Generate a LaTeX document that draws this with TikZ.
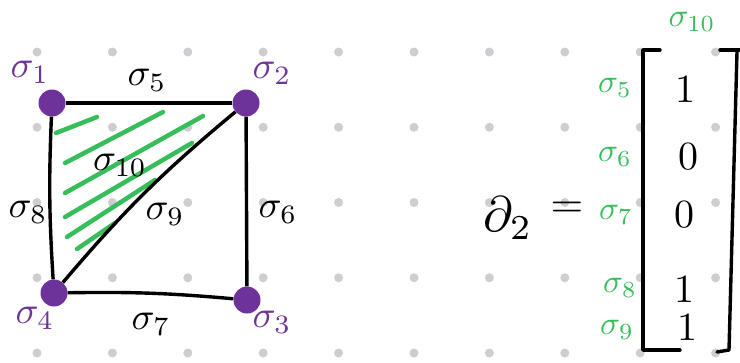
\documentclass[tikz,border=0pt]{standalone}
\usepackage{amsmath}
\usepackage{amssymb}
\usepackage{tikz}
\definecolor{vpurple}{RGB}{110,50,155}
\definecolor{hgreen}{RGB}{55,190,90}
\definecolor{dotgrey}{RGB}{205,205,210}
\newcommand{\sig}[1]{\sigma_{#1}}

\begin{document}
\begin{tikzpicture}[x=1pt,y=-1pt,
    vert/.style={circle,fill=vpurple,inner sep=0pt,minimum size=27pt},
    edge/.style={black,line width=3.4pt},
    hatch/.style={hgreen,line width=4.5pt,line cap=round},
    lbl/.style={scale=3.8,inner sep=0pt},
    glbl/.style={scale=3.3,inner sep=0pt,text=hgreen},
    entry/.style={scale=4,inner sep=0pt}]
    \useasboundingbox (0,0) rectangle (740,362);
    % dot grid
    \foreach \i in {0,...,9}
      \foreach \j in {0,...,4}
        \fill[dotgrey] (37+75.4*\i,52+75.25*\j) circle (4.5);

    % shaded 2-cell
    \draw[hatch] (56,133) -- (97,117);
    \draw[hatch] (65,163) -- (163,112);
    \draw[hatch] (65,193) -- (203,116);
    \draw[hatch] (65,217) -- (192,143);
    \draw[hatch] (67,237) -- (155,180);
    \draw[hatch] (77,249) -- (115,223);

    \node[vert] (v1) at (52,103) {};
    \node[vert] (v2) at (246,103) {};
    \node[vert] (v3) at (247,300) {};
    \node[vert] (v4) at (54,293) {};

    \draw[edge] (v1) -- (v2);
    \draw[edge] (v1) to[bend right=3] (v4);
    \draw[edge] (v2) -- (v3);
    \draw[edge] (v4) to[bend left=3] (v3);
    \draw[edge] (v2) to[bend right=5] (v4);

    \node[lbl,text=vpurple] (s1) at (30,72) {$\sig{1}$};
    \node[lbl,text=vpurple] (s2) at (272,73) {$\sig{2}$};
    \node[lbl,text=vpurple] (s3) at (272,322) {$\sig{3}$};
    \node[lbl,text=vpurple] (s4) at (35,318) {$\sig{4}$};
    \node[lbl] (s5) at (147,80) {$\sig{5}$};
    \node[lbl] (s6) at (278,212) {$\sig{6}$};
    \node[lbl] (s7) at (151,324) {$\sig{7}$};
    \node[lbl] (s8) at (28,212) {$\sig{8}$};
    \node[lbl] (s9) at (165,214) {$\sig{9}$};
    \node[lbl] (s10) at (120,165) {$\sig{10}$};

    % boundary matrix
    \node[scale=5,inner sep=0pt] (bd) at (508,218) {$\partial_2$};
    \node[scale=4.2,inner sep=0pt] (eq) at (567,210) {$=$};
    \draw[edge,line cap=round,line join=round] (660,50) -- (643,50) -- (643,350) -- (680,350);
    \draw[edge,line cap=round,line join=round] (720,50) -- (740,50);
    \draw[edge,line cap=round,line join=round] (737,52) -- (729,350) -- (717,352);

    \node[entry] (m5) at (685,90) {$1$};
    \node[entry] (m6) at (688,157) {$0$};
    \node[entry] (m7) at (684,215) {$0$};
    \node[entry] (m8) at (684,290) {$1$};
    \node[entry] (m9) at (687,328) {$1$};

    \node[glbl] (c10) at (692,22) {$\sig{10}$};
    \node[glbl] (r5) at (615,88) {$\sig{5}$};
    \node[glbl] (r6) at (615,157) {$\sig{6}$};
    \node[glbl] (r7) at (616,215) {$\sig{7}$};
    \node[glbl] (r8) at (620,288) {$\sig{8}$};
    \node[glbl] (r9) at (617,330) {$\sig{9}$};
\end{tikzpicture}
\end{document}
